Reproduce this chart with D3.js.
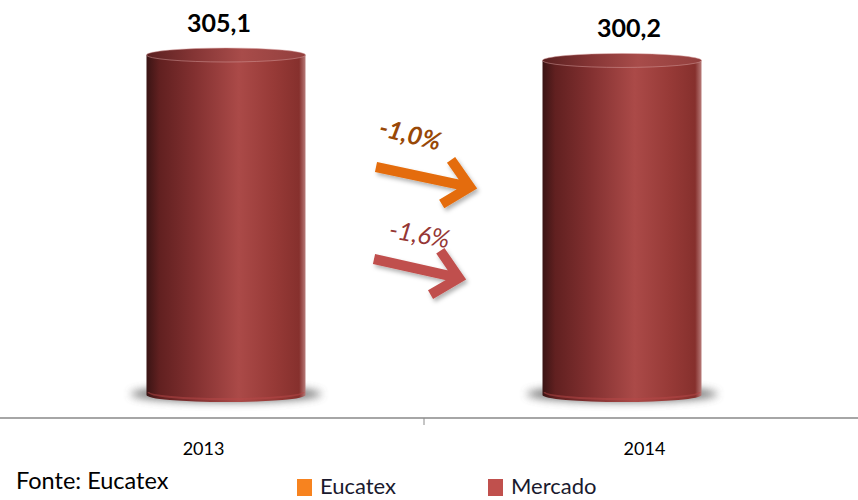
<!DOCTYPE html>
<html lang="pt">
<head>
<meta charset="UTF-8">
<title>Eucatex x Mercado</title>
<style>
    html, body { margin: 0; padding: 0; background: #fff; }
    svg { display: block; font-family: Lato, "Open Sans", sans-serif; }
</style>
</head>
<body>
<div id="chart"></div>
<script src="https://cdn.jsdelivr.net/npm/d3@7"></script>
<script>
    // dados
    const years = ["2013", "2014"];
    const mercado = [305.1, 300.2];
    const valueLabels = ["305,1", "300,2"];
    const changeLabels = ["-1,0%", "-1,6%"];
    const legendNames = ["Eucatex", "Mercado"];
    const legendColors = ["#f7831f", "#c0504d"];

    const width = 858, height = 500;
    const svg = d3.select("#chart").append("svg")
        .attr("width", width)
        .attr("height", height);

    const defs = svg.append("defs");

    // gradiente do cilindro
    const grad = defs.append("linearGradient")
        .attr("id", "cyl")
        .attr("x1", "0%").attr("x2", "100%").attr("y1", "0%").attr("y2", "0%");
    [[0, "#3a1414"], [0.08, "#612020"], [0.3, "#823030"], [0.58, "#ab4a48"],
     [0.8, "#973a37"], [0.96, "#86302d"], [1, "#b77a78"]]
        .forEach(s => grad.append("stop").attr("offset", s[0]).attr("stop-color", s[1]));

    const gradTop = defs.append("linearGradient")
        .attr("id", "cylTop")
        .attr("x1", "0%").attr("x2", "100%").attr("y1", "0%").attr("y2", "0%");
    [[0, "#5a2020"], [0.3, "#853535"], [0.6, "#a84c4a"], [1, "#923f3d"]]
        .forEach(s => gradTop.append("stop").attr("offset", s[0]).attr("stop-color", s[1]));

    defs.append("filter").attr("id", "blur")
        .attr("x", "-30%").attr("y", "-100%").attr("width", "160%").attr("height", "300%")
        .append("feGaussianBlur").attr("stdDeviation", 4);

    const shadow = defs.append("filter").attr("id", "drop")
        .attr("x", "-20%").attr("y", "-40%").attr("width", "140%").attr("height", "180%");
    shadow.append("feDropShadow")
        .attr("dx", 2).attr("dy", 3).attr("stdDeviation", 2)
        .attr("flood-color", "#000").attr("flood-opacity", 0.3);

    // escalas
    const x = d3.scaleBand().domain(years).range([0, 848]);
    const y = d3.scaleLinear().domain([0, 305.1]).range([395, 55]);
    const mid = x.range()[0] + x.bandwidth();   // separacao entre categorias
    const rx = 79.5, ry = 7;
    // efeito de perspectiva: cilindros puxados para o centro
    const cylX = d => x(d) + x.bandwidth() / 2 - (x(d) + x.bandwidth() / 2 - mid) * 0.066;

    const data = years.map((d, i) => ({ year: d, value: mercado[i], label: valueLabels[i] }));

    // eixo
    const axisY = 418;
    svg.append("line")
        .attr("x1", 0).attr("x2", width)
        .attr("y1", axisY).attr("y2", axisY)
        .attr("stroke", "#a6a6a6").attr("stroke-width", 2);
    svg.append("line")
        .attr("x1", mid).attr("x2", mid)
        .attr("y1", axisY).attr("y2", axisY + 7)
        .attr("stroke", "#8c8c8c").attr("stroke-width", 1);

    svg.selectAll(".year")
        .data(years)
        .join("text")
        .attr("class", "year")
        .attr("x", d => x(d) + x.bandwidth() / 2 + (x(d) + x.bandwidth() / 2 - mid) * 0.04)
        .attr("y", 455)
        .attr("text-anchor", "middle")
        .attr("font-size", 18)
        .attr("fill", "#000")
        .text(d => d);

    // cilindros
    const cyl = svg.selectAll(".cyl")
        .data(data)
        .join("g")
        .attr("class", "cyl");

    cyl.append("ellipse")
        .attr("cx", d => cylX(d.year))
        .attr("cy", y(0) - 1)
        .attr("rx", rx + 16)
        .attr("ry", 8)
        .attr("fill", "#555")
        .attr("opacity", 0.8)
        .attr("filter", "url(#blur)");

    cyl.append("path")
        .attr("d", d => {
            const cx = cylX(d.year), top = y(d.value), bot = y(0);
            return `M${cx - rx},${top} L${cx - rx},${bot} A${rx},${ry} 0 0 0 ${cx + rx},${bot} L${cx + rx},${top} Z`;
        })
        .attr("fill", "url(#cyl)");

    cyl.append("path")
        .attr("d", d => {
            const cx = cylX(d.year), bot = y(0) - 3;
            return `M${cx - rx + 2},${bot} A${rx - 2},${ry} 0 0 0 ${cx + rx - 2},${bot}`;
        })
        .attr("fill", "none")
        .attr("stroke", "#b84848")
        .attr("stroke-opacity", 0.5)
        .attr("stroke-width", 2);

    cyl.append("ellipse")
        .attr("cx", d => cylX(d.year))
        .attr("cy", d => y(d.value))
        .attr("rx", rx)
        .attr("ry", ry)
        .attr("fill", "url(#cylTop)")
        .attr("stroke", "#d9a3a2")
        .attr("stroke-opacity", 0.6)
        .attr("stroke-width", 0.8);

    cyl.append("text")
        .attr("x", d => (cylX(d.year) + x(d.year) + x.bandwidth() / 2) / 2)
        .attr("y", d => y(d.value) - 23)
        .attr("text-anchor", "middle")
        .attr("font-size", 25)
        .attr("font-weight", "bold")
        .attr("fill", "#000")
        .text(d => d.label);

    // setas de variacao
    const arrows = [
        { label: changeLabels[0], color: "#e46c0a", text: "#984807", bold: true,
          x0: mid - 48, y0: 167, x1: mid + 46, y1: 187, tx: mid - 16, ty: 143, rot: 14 },
        { label: changeLabels[1], color: "#c0504d", text: "#953735", bold: false,
          x0: mid - 50, y0: 259, x1: mid + 35, y1: 278, tx: mid - 6, ty: 243, rot: 10 }
    ];

    const ag = svg.selectAll(".arrow")
        .data(arrows)
        .join("g")
        .attr("class", "arrow");

    ag.append("path")
        .attr("d", d => {
            const a = Math.atan2(d.y1 - d.y0, d.x1 - d.x0);
            const len = 33, spread = 0.75;
            const w1 = [d.x1 - len * Math.cos(a - spread), d.y1 - len * Math.sin(a - spread)];
            const w2 = [d.x1 - len * Math.cos(a + spread), d.y1 - len * Math.sin(a + spread)];
            return `M${d.x0},${d.y0} L${d.x1 - 4 * Math.cos(a)},${d.y1 - 4 * Math.sin(a)} M${w1} L${d.x1},${d.y1} L${w2}`;
        })
        .attr("fill", "none")
        .attr("stroke", d => d.color)
        .attr("stroke-width", 10)
        .attr("stroke-linejoin", "miter")
        .attr("stroke-linecap", "butt")
        .attr("filter", "url(#drop)");

    ag.append("text")
        .attr("transform", d => `translate(${d.tx},${d.ty}) rotate(${d.rot})`)
        .attr("text-anchor", "middle")
        .attr("font-size", 25)
        .attr("font-style", "italic")
        .attr("font-weight", d => d.bold ? "bold" : "normal")
        .attr("fill", d => d.text)
        .text(d => d.label);

    // fonte
    svg.append("text")
        .attr("x", 16)
        .attr("y", 489)
        .attr("font-size", 23.5)
        .attr("fill", "#000")
        .text("Fonte: Eucatex");

    // legenda
    const leg = svg.selectAll(".legend")
        .data(legendNames)
        .join("g")
        .attr("class", "legend")
        .attr("transform", (d, i) => `translate(${297 + i * 191},479)`);

    leg.append("rect")
        .attr("width", 15).attr("height", 17)
        .attr("fill", (d, i) => legendColors[i]);

    leg.append("text")
        .attr("x", 23)
        .attr("y", 15)
        .attr("font-size", 22)
        .attr("fill", "#1a1a2e")
        .text(d => d);
</script>
</body>
</html>
